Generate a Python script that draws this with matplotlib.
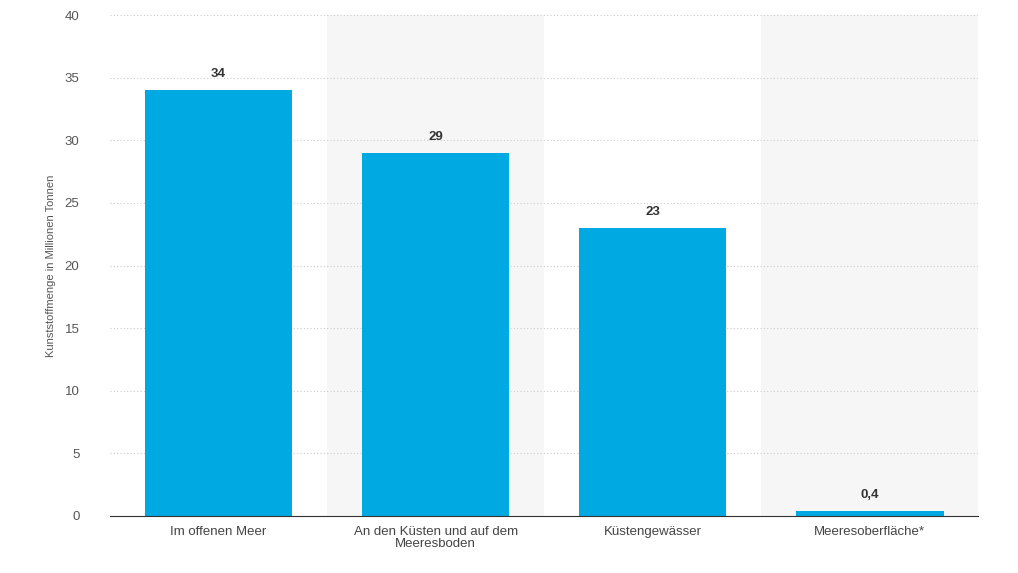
import matplotlib.pyplot as plt

categories = ["Im offenen Meer", "An den Küsten und auf dem\nMeeresboden",
              "Küstengewässer", "Meeresoberfläche*"]
values = [34, 29, 23, 0.4]
value_labels = ["34", "29", "23", "0,4"]
y_ticks = [0, 5, 10, 15, 20, 25, 30, 35, 40]

plt.rcParams["font.family"] = "Liberation Sans"

fig = plt.figure(figsize=(10.18, 5.73), dpi=100)
ax = fig.add_axes([0.108, 0.0995, 0.853, 0.874])

x = list(range(len(categories)))
for i in x:
    if i % 2 == 1:
        ax.axvspan(i - 0.5, i + 0.5, color="#f6f6f6", zorder=0, lw=0)

ax.bar(x, values, width=0.68, color="#00a9e2", zorder=3)
for xi, v, lab in zip(x, values, value_labels):
    ax.text(xi, v + 0.8, lab, ha="center", va="bottom", fontsize=9.5,
            fontweight="bold", color="#333333", zorder=4)

ax.set_xlim(-0.5, len(categories) - 0.5)
ax.set_ylim(0, 40)
ax.set_yticks(y_ticks)
ax.set_xticks(x)
ax.set_xticklabels(categories, fontsize=9.5, color="#444444", linespacing=1.0)
ax.tick_params(axis="y", length=0, labelsize=9.5, labelcolor="#555555", pad=22)
ax.tick_params(axis="x", length=0, pad=7)
ax.yaxis.grid(True, color="#cccccc", linestyle=(0, (1, 2)), linewidth=0.8, zorder=1)
for s in ["top", "right", "left"]:
    ax.spines[s].set_visible(False)
ax.spines["bottom"].set_color("#333333")
ax.spines["bottom"].set_zorder(5)
ax.set_ylabel("Kunststoffmenge in Millionen Tonnen", fontsize=8, color="#555555", labelpad=6)

fig.savefig("out.png", dpi=100)
